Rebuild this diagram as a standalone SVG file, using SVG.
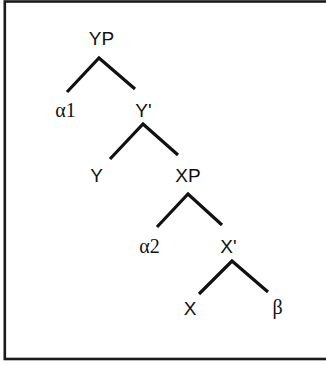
<svg xmlns="http://www.w3.org/2000/svg" width="326" height="365" viewBox="0 0 326 365">
<style>
.l{font-family:"Liberation Sans",Arial,sans-serif;font-size:19px;fill:#111;text-anchor:middle}
.g{font-family:"Liberation Serif","Times New Roman",serif;font-size:20px;fill:#111;text-anchor:middle}
.e{fill:none;stroke:#111;stroke-width:3.2;stroke-linecap:butt;stroke-linejoin:miter}
</style>
<rect x="0" y="0" width="326" height="365" fill="#fff"/>
<rect x="4.8" y="1.5" width="340" height="357.5" fill="none" stroke="#1a1a1a" stroke-width="2.6"/>
<g id="connectors">
<polyline class="e" points="67,92 99,58 135,89"/>
<polyline class="e" points="110,159 143,124 178,155"/>
<polyline class="e" points="157,227 188,194 222,225"/>
<polyline class="e" points="199,294 232,261 268,292"/>
</g>
<g id="YP"><text class="l" x="101.5" y="45">YP</text></g>
<g id="alpha1"><text class="g" x="65.5" y="117">α1</text></g>
<g id="Ybar"><text class="l" x="143.5" y="117">Y'</text></g>
<g id="Y"><text class="l" x="96.5" y="182">Y</text></g>
<g id="XP"><text class="l" x="188" y="182">XP</text></g>
<g id="alpha2"><text class="g" x="149.5" y="253">α2</text></g>
<g id="Xbar"><text class="l" x="228.5" y="253">X'</text></g>
<g id="X"><text class="l" x="190" y="315">X</text></g>
<g id="beta"><text class="g" x="277.5" y="314">β</text></g>
</svg>
